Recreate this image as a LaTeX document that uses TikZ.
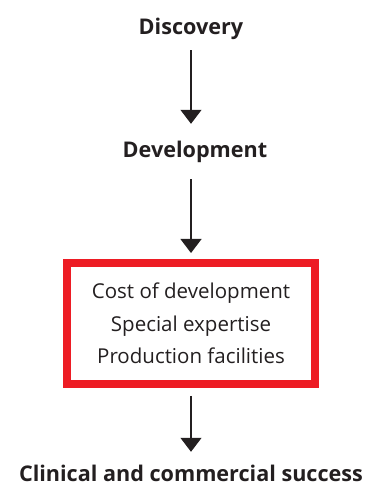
\documentclass[tikz,border=0pt]{standalone}
\usepackage{fontspec}
\setmainfont{Open Sans}
\usetikzlibrary{arrows.meta}
\definecolor{boxred}{RGB}{237, 28, 36}
\definecolor{inkblack}{RGB}{35, 31, 32}

\begin{document}
\begin{tikzpicture}[x=1pt, y=1pt,
  stage/.style={font=\fontsize{21.6}{25}\selectfont\bfseries, text=inkblack, inner sep=0pt,
    text height=16pt, text depth=5pt, anchor=base},
  flow/.style={-{Triangle[width=21pt, length=14pt]}, line width=1.2pt, inkblack}]
  \useasboundingbox (0, 0) rectangle (368, 486);

  \node[stage] (disc) at (191, 451) {Discovery};
  \node[stage] (devel) at (195, 328) {Development};
  \node[draw=boxred, line width=8pt, outer sep=0pt, minimum width=248pt, minimum height=121pt,
    align=center, font=\fontsize{20.5}{32.5}\selectfont, text=inkblack] (hurdles) at (191, 162.5)
    {Cost of development\\ Special expertise\\ Production facilities};
  \node[stage] (success) at (191, 5) {Clinical and commercial success};

  \draw[flow, shorten <=10pt, shorten >=18pt] (disc.south) -- (disc.south |- devel.north);
  \draw[flow, shorten <=16pt, shorten >=10pt] (hurdles.north |- devel.south) -- (hurdles.north);
  \draw[flow, shorten <=12pt, shorten >=13pt] (hurdles.south) -- (success.north);
\end{tikzpicture}
\end{document}
